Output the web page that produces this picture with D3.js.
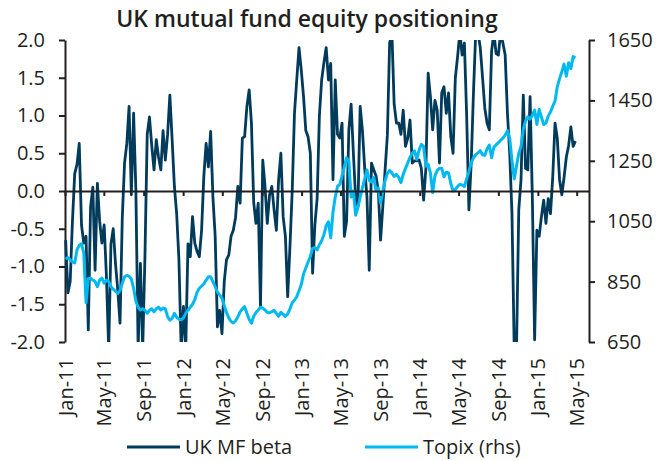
<html>
<script src="https://d3js.org/d3.v7.min.js"></script>
<style>
    body {margin: 0; background: #fff;}
    text {font-family: "Open Sans", sans-serif; fill: #231f20;}
</style>
<body>
<svg width=669 height=461></svg>
<script>
const chartTitle = "UK mutual fund equity positioning";
const seriesNames = ["UK MF beta", "Topix (rhs)"];

// weekly observations, first one on this date
const firstWeek = "2011-01-03";

const betaValues = [
    -0.65, -1.35, -1.20, -0.40, 0.23, 0.35, 0.63, -0.45, -0.69, -0.60,
    -1.84, -0.21, 0.05, -1.05, 0.10, -0.40, -0.69, -0.45, -1.13, -2.10,
    -0.70, -0.50, -0.96, -1.31, -1.75, -0.35, 0.37, 0.63, 1.12, -0.05,
    1.03, 0.01, -2.10, -0.96, -2.10, -0.87, 0.75, 0.98, 0.60, 0.28,
    0.68, 0.45, 0.28, 0.80, 0.41, 0.75, 1.27, 0.68, 0.06, -0.30,
    -0.91, -2.10, -1.53, -2.10, -0.70, -0.87, -0.34, -0.69, -0.80, -0.87,
    -0.52, 0.20, 0.63, 0.32, 0.79, -0.08, -0.60, -1.80, -1.58, -1.89,
    -1.20, -0.91, -0.85, -0.60, -0.52, -0.35, 0.06, -0.16, 0.70, 0.72,
    1.12, 1.34, 0.90, -0.15, -0.43, -0.16, -1.53, 0.41, 0.06, -0.43,
    -0.05, 0.06, -0.25, -0.52, 0.15, 0.50, -0.34, -0.60, -1.40, -0.74,
    0.00, 1.03, 1.47, 1.90, 1.60, 1.25, 0.80, 0.72, 0.50, -1.09,
    -0.45, -0.10, 1.00, 1.47, 1.70, 1.90, 1.47, 1.69, 0.15, 1.47,
    0.75, 0.70, 0.90, -0.60, -0.40, 0.81, 1.15, 0.50, -0.10, -0.20,
    1.12, 0.80, 0.30, -0.08, -1.05, 0.37, 0.28, 0.20, 0.00, -0.65,
    -0.20, 0.28, 0.74, 1.96, 2.10, 1.15, 0.90, 0.90, 0.75, 1.07,
    0.59, 0.70, 0.94, 0.37, 0.40, 0.40, 0.41, 0.30, -0.12, 0.30,
    1.56, 1.25, 0.81, 1.20, 1.07, 0.37, 1.30, 1.38, 1.03, 1.30,
    0.72, 0.50, 1.50, 1.78, 2.10, 1.80, 1.96, 1.00, -0.25, 0.37,
    1.30, 2.10, 2.10, 1.90, 1.51, 1.10, 0.90, 0.81, 1.85, 2.10,
    1.82, 1.80, 2.10, 1.96, 1.80, 1.03, 0.50, -0.30, -2.10, -2.10,
    -0.25, 0.15, 1.27, 0.30, 0.28, 1.25, -0.10, -1.97, -0.52, -0.60,
    -0.34, -0.12, -0.43, -0.10, -0.30, 0.19, 0.90, 0.70, 0.15, -0.05,
    0.18, 0.45, 0.60, 0.85, 0.59, 0.66
];

const topixValues = [
    925, 930, 922, 915, 912, 955, 970, 975, 945, 780,
    860, 861, 855, 850, 833, 855, 862, 845, 855, 850,
    833, 825, 818, 811, 820, 845, 866, 870, 868, 858,
    828, 785, 765, 756, 760, 755, 745, 755, 760, 750,
    760, 765, 756, 762, 760, 734, 722, 728, 745, 732,
    726, 723, 730, 745, 756, 765, 775, 790, 815, 828,
    835, 842, 855, 866, 866, 850, 833, 815, 805, 795,
    770, 748, 730, 718, 713, 720, 733, 750, 760, 767,
    745, 725, 712, 735, 748, 756, 765, 762, 756, 748,
    747, 750, 755, 745, 735, 748, 742, 735, 743, 760,
    780, 788, 800, 820, 840, 875, 895, 915, 933, 960,
    962, 955, 972, 985, 1005, 1035, 1048, 995, 1080, 1130,
    1165, 1172, 1200, 1230, 1260, 1250, 1130, 1150, 1070, 1095,
    1130, 1160, 1190, 1220, 1185, 1180, 1195, 1150, 1160, 1110,
    1150, 1185, 1208, 1218, 1210, 1198, 1205, 1195, 1178, 1205,
    1225, 1243, 1262, 1275, 1283, 1255, 1285, 1305, 1297, 1232,
    1238, 1210, 1145, 1200, 1218, 1225, 1225, 1197, 1212, 1210,
    1175, 1150, 1155, 1165, 1172, 1170, 1165, 1190, 1215, 1243,
    1260, 1270, 1276, 1284, 1270, 1268, 1290, 1302, 1260, 1295,
    1303, 1310, 1318, 1325, 1335, 1350, 1325, 1250, 1190, 1232,
    1275, 1297, 1355, 1382, 1396, 1388, 1400, 1418, 1370, 1420,
    1395, 1370, 1375, 1398, 1412, 1430, 1448, 1495, 1522, 1545,
    1570, 1530, 1575, 1555, 1595, 1590
];

const leftTicks = [-2, -1.5, -1, -0.5, 0, 0.5, 1, 1.5, 2];
const rightTicks = [650, 850, 1050, 1250, 1450, 1650];
const dateTicks = ["2011-01-01", "2011-05-01", "2011-09-01", "2012-01-01", "2012-05-01",
    "2012-09-01", "2013-01-01", "2013-05-01", "2013-09-01", "2014-01-01",
    "2014-05-01", "2014-09-01", "2015-01-01", "2015-05-01"];

const parse = d3.timeParse("%Y-%m-%d");
const start = parse(firstWeek);
const beta = betaValues.map((v, i) => ({date: d3.timeDay.offset(start, 7 * i), v: v}));
const topix = topixValues.map((v, i) => ({date: d3.timeDay.offset(start, 7 * i), v: v}));
const tickDates = dateTicks.map(parse);

const dark = "#003b5c", light = "#00b9f1", axisCol = "#231f20";

const xs = d3.scaleTime().domain([parse("2011-01-01"), parse("2015-06-08")]).range([65, 589]);
const ys = d3.scaleLinear().domain([-2, 2]).range([342, 40]);
const ys2 = d3.scaleLinear().domain([650, 1650]).range([342, 40]);

const svg = d3.select('svg');

svg.append("defs").append("clipPath").attr("id", "plot")
    .append("rect").attr("x", 60).attr("y", 40).attr("width", 540).attr("height", 302);

// title
svg.append("text")
    .attr("x", 307).attr("y", 27)
    .attr("text-anchor", "middle")
    .style("font-size", "23px").style("font-weight", 600)
    .text(chartTitle);

function styleAxis(g) {
    g.selectAll("path, line").attr("stroke", axisCol).attr("stroke-width", 2);
    g.selectAll("text").style("font-size", "20px").attr("fill", axisCol)
        .style("font-family", '"Open Sans", sans-serif');
}

// left axis
svg.append("g")
    .attr("transform", "translate(65,0)")
    .call(d3.axisLeft(ys).tickValues(leftTicks).tickSize(6).tickSizeOuter(0).tickPadding(14)
        .tickFormat(d => d.toFixed(1)))
    .call(styleAxis);

// right axis
svg.append("g")
    .attr("transform", "translate(589,0)")
    .call(d3.axisRight(ys2).tickValues(rightTicks).tickSize(6).tickSizeOuter(0).tickPadding(12)
        .tickFormat(d3.format("d")))
    .call(styleAxis);

// lines
const lineBeta = d3.line().x(d => xs(d.date)).y(d => ys(d.v));
const lineTopix = d3.line().x(d => xs(d.date)).y(d => ys2(d.v));

const plot = svg.append("g").attr("clip-path", "url(#plot)");

plot.append("path")
    .datum(beta)
    .attr("d", lineBeta)
    .attr("fill", "none").attr("stroke", dark).attr("stroke-width", 2.8)
    .attr("stroke-linejoin", "round");

plot.append("path")
    .datum(topix)
    .attr("d", lineTopix)
    .attr("fill", "none").attr("stroke", light).attr("stroke-width", 3)
    .attr("stroke-linejoin", "round");

// zero line with date ticks
svg.append("g")
    .attr("transform", "translate(0," + ys(0) + ")")
    .call(d3.axisBottom(xs).tickValues(tickDates).tickSize(5).tickSizeOuter(0).tickFormat(""))
    .call(styleAxis);

// rotated date labels below the plot
const xl = svg.append("g")
    .attr("transform", "translate(0,342)")
    .call(d3.axisBottom(xs).tickValues(tickDates).tickSize(0).tickFormat(d3.timeFormat("%b-%y")))
    .call(styleAxis);
xl.select(".domain").remove();
xl.selectAll("text")
    .attr("y", 0).attr("x", -16).attr("dy", "0.35em")
    .attr("transform", "rotate(-90)")
    .style("text-anchor", "end");

// legend
const legend = [
    {name: seriesNames[0], color: dark, x: 127},
    {name: seriesNames[1], color: light, x: 365}
];
const lg = svg.append("g").selectAll("g").data(legend).enter().append("g");
lg.append("line")
    .attr("x1", d => d.x).attr("x2", d => d.x + 53)
    .attr("y1", 447).attr("y2", 447)
    .attr("stroke", d => d.color).attr("stroke-width", 3);
lg.append("text")
    .attr("x", d => d.x + 58).attr("y", 447).attr("dy", "0.35em")
    .style("font-size", "20px")
    .text(d => d.name);
</script>
</body>
</html>
